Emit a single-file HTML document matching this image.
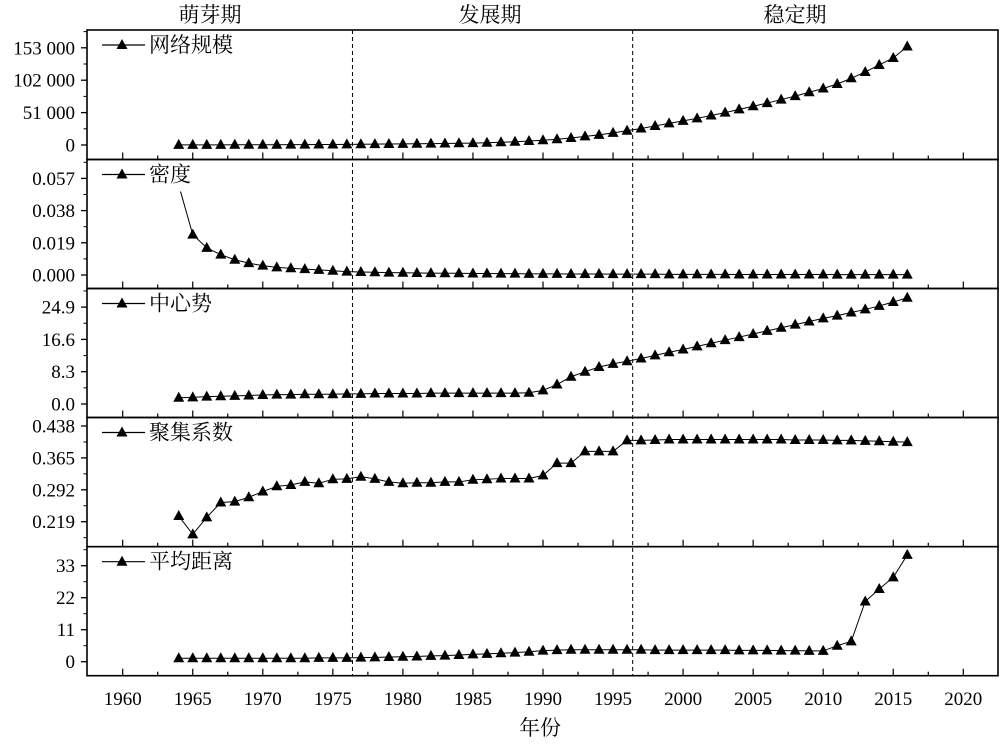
<!DOCTYPE html>
<html><head><meta charset="utf-8"><style>
body{margin:0;background:#fff}
svg{display:block}
text{font-family:"Liberation Serif","Noto Serif CJK SC",serif;fill:#000}
</style></head><body>
<svg id="chart" width="1000" height="744" xmlns="http://www.w3.org/2000/svg"></svg>
<script>
const years=[];for(let y=1964;y<=2016;y++)years.push(y);
const sizeVals=[100,150,200,250,300,350,400,450,500,600,700,800,1000,1200,1400,1600,1800,2000,2200,2400,2700,3000,3500,4300,5200,6300,7500,9000,11000,13500,16000,19000,22500,26000,30000,34000,38000,42000,46500,51000,56000,61000,66000,71500,77000,83000,89000,96000,105000,115000,126000,137000,155000];
const densityVals=[0.053,0.0238,0.016,0.012,0.009,0.007,0.0055,0.0045,0.004,0.0035,0.003,0.0025,0.002,0.0018,0.0016,0.0014,0.0013,0.0012,0.0011,0.001,0.001,0.0009,0.0009,0.0008,0.0008,0.0007,0.0007,0.0007,0.0006,0.0006,0.0006,0.0005,0.0005,0.0005,0.0005,0.0004,0.0004,0.0004,0.0004,0.0004,0.0003,0.0003,0.0003,0.0003,0.0003,0.0003,0.0003,0.0002,0.0002,0.0002,0.0002,0.0002,0.0002];
const centralVals=[1.6,1.7,1.9,2.0,2.1,2.2,2.3,2.4,2.4,2.5,2.5,2.5,2.6,2.6,2.7,2.7,2.7,2.7,2.8,2.8,2.8,2.8,2.8,2.8,2.8,2.9,3.5,5.0,7.0,8.3,9.5,10.3,11.0,11.7,12.5,13.3,14.0,14.8,15.6,16.4,17.2,18.0,18.8,19.6,20.4,21.2,22.0,22.7,23.5,24.3,25.2,26.2,27.3];
const clusterVals=[0.232,0.19,0.229,0.263,0.265,0.275,0.288,0.3,0.303,0.31,0.307,0.316,0.317,0.322,0.317,0.31,0.307,0.308,0.308,0.31,0.31,0.315,0.316,0.318,0.318,0.318,0.325,0.353,0.353,0.38,0.38,0.38,0.405,0.405,0.406,0.407,0.407,0.407,0.407,0.407,0.407,0.407,0.407,0.407,0.406,0.406,0.406,0.405,0.405,0.404,0.403,0.402,0.401];
const distData=[1.2,1.2,1.2,1.2,1.2,1.2,1.2,1.2,1.2,1.2,1.3,1.3,1.3,1.4,1.5,1.6,1.7,1.8,2.0,2.1,2.3,2.5,2.7,2.9,3.1,3.4,3.8,4.0,4.1,4.1,4.1,4.1,4.1,4.1,4.0,4.0,4.0,4.0,4.0,4.0,3.9,3.9,3.9,3.8,3.8,3.7,3.7,5.5,7.0,20.7,25.0,29.0,36.7];
const xTicks=[1960,1965,1970,1975,1980,1985,1990,1995,2000,2005,2010,2015,2020];
const phaseLabels=["萌芽期","发展期","稳定期"];
const phaseBounds=[1976.4,1996.4];

const NS="http://www.w3.org/2000/svg";
const svg=document.getElementById('chart');
function el(t,a,p){const e=document.createElementNS(NS,t);for(const k in a)e.setAttribute(k,a[k]);(p||svg).appendChild(e);return e;}
const L=87,R=998;
const x=v=>122.7+(v-1960)*14.01;
const panels=[
 {name:'network-size',label:'网络规模',top:30,bot:159.5,vals:sizeVals,v0:0,y0:145,step:51000,py:32.4,ticks:[0,51000,102000,153000],fmt:v=>v===0?'0':String(v/1000)+' 000'},
 {name:'density',label:'密度',top:159.5,bot:288.5,vals:densityVals,v0:0,y0:275,step:0.019,py:32.2,ticks:[0,0.019,0.038,0.057],fmt:v=>v.toFixed(3)},
 {name:'centralization',label:'中心势',top:288.5,bot:417.5,vals:centralVals,v0:0,y0:404,step:8.3,py:32.3,ticks:[0,8.3,16.6,24.9],fmt:v=>v.toFixed(1)},
 {name:'clustering-coefficient',label:'聚集系数',top:417.5,bot:546.7,vals:clusterVals,v0:0.219,y0:521.7,step:0.073,py:31.9,ticks:[0.219,0.292,0.365,0.438],fmt:v=>v.toFixed(3)},
 {name:'average-distance',label:'平均距离',top:546.7,bot:675.7,vals:distData,v0:0,y0:661.7,step:11,py:32,ticks:[0,11,22,33],fmt:v=>String(v)}
];
panels.forEach(p=>{
 const g=el('g',{});
 
 
 const y=v=>p.y0-(v-p.v0)/p.step*p.py;
 p.ticks.forEach((t,i)=>{
  const ty=y(t);
  el('line',{x1:L-6,x2:L,y1:ty,y2:ty,stroke:'#000','stroke-width':1.3},g);
  const tx=el('text',{x:L-12,y:ty+6.5,'text-anchor':'end','font-size':19},g);tx.textContent=p.fmt(t);
  
  
  const my=y(t+p.step/2);
  if(my>p.top+1) el('line',{x1:L-3.5,x2:L,y1:my,y2:my,stroke:'#000','stroke-width':1},g);
  if(i===0){const my2=y(t-p.step/2);if(my2<p.bot-1)el('line',{x1:L-3.5,x2:L,y1:my2,y2:my2,stroke:'#000','stroke-width':1},g);}
 });
 for(let yr=1960;yr<=2020;yr+=2.5){
  const major=yr%5===0;
  el('line',{x1:x(yr),x2:x(yr),y1:p.bot,y2:p.bot-(major?7:4),stroke:'#000','stroke-width':1.2},g);
 }
 const pts=p.vals.map((v,i)=>[x(years[i]),y(v)]);
 el('polyline',{points:pts.map(q=>q.join(',')).join(' '),fill:'none',stroke:'#000','stroke-width':1},g);
 pts.forEach(q=>{
  const t=el('path',{d:`M${q[0]},${q[1]-6}L${q[0]+5.5},${q[1]+4}L${q[0]-5.5},${q[1]+4}Z`,fill:'#000'},g);
  
  
 });
 const lg=el('g',{},g);
 
 
 el('rect',{x:148,y:p.top+2,width:22*p.label.length+6,height:30,fill:'#fff'},lg);
 el('line',{x1:102,x2:145,y1:p.top+15,y2:p.top+15,stroke:'#000','stroke-width':1.2},lg);
 el('path',{d:`M122,${p.top+9}L127.5,${p.top+19}L116.5,${p.top+19}Z`,fill:'#000'},lg);
 const lt=el('text',{x:149,y:p.top+22,'font-size':21},lg);lt.textContent=p.label;
 el('rect',{x:L,y:p.top,width:R-L,height:p.bot-p.top,fill:'none',stroke:'#000','stroke-width':1.6},g);
});
phaseBounds.forEach(b=>{
 const d=el('line',{x1:x(b),x2:x(b),y1:30,y2:675.7,stroke:'#000','stroke-width':1,'stroke-dasharray':'4,3'});
 
 
});
[210,490,795].forEach((px,i)=>{
 const t=el('text',{x:px,y:22,'text-anchor':'middle','font-size':21});t.textContent=phaseLabels[i];
 
 
});
xTicks.forEach(v=>{
 const t=el('text',{x:x(v),y:705,'text-anchor':'middle','font-size':19});t.textContent=v;
 
 
});
const xt=el('text',{x:540,y:735,'text-anchor':'middle','font-size':21});xt.textContent='年份';


</script>
</body></html>
